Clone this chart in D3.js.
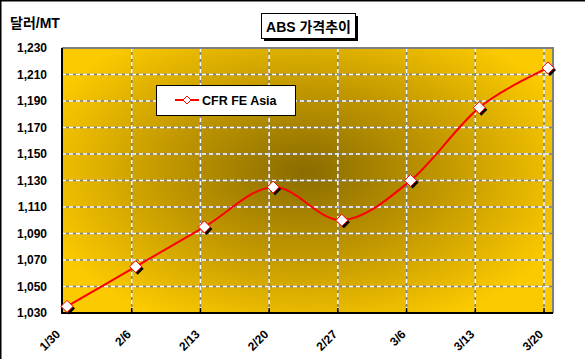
<!DOCTYPE html>
<html><head><meta charset="utf-8">
<script src="https://cdn.jsdelivr.net/npm/d3@7/dist/d3.min.js"></script>
<style>body{margin:0;background:#fff}svg{display:block}</style>
</head><body>
<svg id="c" width="585" height="359"></svg>
<script>
const categories = ["1/30","2/6","2/13","2/20","2/27","3/6","3/13","3/20"];
const values = [1035,1065,1095,1125,1100,1130,1185,1215];
const yTicks = [1030,1050,1070,1090,1110,1130,1150,1170,1190,1210,1230];
const seriesName = "CFR FE Asia";
const chartTitle = "ABS 가격추이";
const yTitle = "달러/MT";

const svg = d3.select("#c");
const font = "'Liberation Sans', Arial, 'Noto Sans CJK KR', sans-serif";
const L = 62, R = 553, T = 48, B = 313;

// outer border (top, left)
svg.append("line").attr("x1",0).attr("x2",585).attr("y1",0.5).attr("y2",0.5).attr("stroke","#000").attr("stroke-width",2);
svg.append("line").attr("x1",0.5).attr("x2",0.5).attr("y1",0).attr("y2",359).attr("stroke","#000").attr("stroke-width",2);

const defs = svg.append("defs");
const rg = defs.append("radialGradient").attr("id","bg").attr("gradientUnits","userSpaceOnUse")
  .attr("cx",305).attr("cy",172).attr("r",280).attr("gradientTransform","translate(305,172) scale(1,0.6) translate(-305,-172)");
rg.append("stop").attr("offset","0").attr("stop-color","#8a6c00");
rg.append("stop").attr("offset","0.5").attr("stop-color","#c29800");
rg.append("stop").attr("offset","1").attr("stop-color","#fcca00");
svg.append("rect").attr("x",L).attr("y",T).attr("width",R-L).attr("height",B-T).attr("fill","url(#bg)");

const x = d3.scaleLinear().domain([0, categories.length-1]).range([67, 548]);
const y = d3.scaleLinear().domain([1030,1230]).range([B, T]);
const gridX = i => x(i) - 4;

// horizontal gridlines
yTicks.slice(1).forEach(v => {
  svg.append("line").attr("x1",L).attr("x2",R).attr("y1",y(v)).attr("y2",y(v)).attr("stroke","#808080").attr("stroke-width",1.5);
  svg.append("line").attr("x1",L).attr("x2",R).attr("y1",y(v)).attr("y2",y(v)).attr("stroke","#fff").attr("stroke-width",1.5).attr("stroke-dasharray","4,3");
});
// vertical gridlines
categories.forEach((c,i) => {
  if (i===0) return;
  svg.append("line").attr("x1",gridX(i)).attr("x2",gridX(i)).attr("y1",T).attr("y2",B).attr("stroke","#808080").attr("stroke-width",1.5);
  svg.append("line").attr("x1",gridX(i)).attr("x2",gridX(i)).attr("y1",T).attr("y2",B).attr("stroke","#fff").attr("stroke-width",1.5).attr("stroke-dasharray","4,3");
  svg.append("line").attr("x1",gridX(i)).attr("x2",gridX(i)).attr("y1",B-5).attr("y2",B).attr("stroke","#000").attr("stroke-width",1.5);
});
// plot border
svg.append("path").attr("d",`M${L},${T}H${R}V${B}`).attr("fill","none").attr("stroke","#808080").attr("stroke-width",2);
svg.append("path").attr("d",`M${L},${T}V${B}H${R}`).attr("fill","none").attr("stroke","#000").attr("stroke-width",2);

// y tick labels
yTicks.forEach(v => {
  svg.append("text").attr("x",47).attr("y",y(v)).attr("dy","0.35em").attr("text-anchor","end")
    .attr("font-family",font).attr("font-weight","bold").attr("font-size",12).text(d3.format(",")(v));
});
// x tick labels
categories.forEach((c,i) => {
  const tx = gridX(i) + (i===0?-2:0), ty = 335;
  svg.append("text").attr("transform",`translate(${tx},${ty}) rotate(-45)`).attr("text-anchor","end")
    .attr("font-family",font).attr("font-weight","bold").attr("font-size",12).text(c);
});

// line
const line = d3.line().x((d,i)=>x(i)).y(d=>y(d)).curve(d3.curveCardinal.tension(0));
svg.append("path").datum(values).attr("d",line).attr("fill","none").attr("stroke","#ff0000").attr("stroke-width",2);

const diamond = (cx,cy,r) => `M${cx},${cy-r}L${cx+r},${cy}L${cx},${cy+r}L${cx-r},${cy}Z`;
values.forEach((v,i) => {
  svg.append("path").attr("d",diamond(x(i)+2,y(v)+2,6)).attr("fill","#000");
  svg.append("path").attr("d",diamond(x(i),y(v),6)).attr("fill","#fff").attr("stroke","#ff0000").attr("stroke-width",1);
});

// legend
svg.append("rect").attr("x",156.5).attr("y",85.5).attr("width",139).attr("height",30).attr("fill","#fff").attr("stroke","#000").attr("stroke-width",1);
svg.append("line").attr("x1",175).attr("x2",199).attr("y1",100).attr("y2",100).attr("stroke","#ff0000").attr("stroke-width",2);
svg.append("path").attr("d",diamond(187,100,4)).attr("fill","#fff").attr("stroke","#ff0000").attr("stroke-width",1);
svg.append("text").attr("x",202).attr("y",104.5).attr("font-family",font).attr("font-weight","bold").attr("font-size",12.5).text(seriesName);

// title box
svg.append("rect").attr("x",264).attr("y",16).attr("width",94).attr("height",25).attr("fill","#000");
svg.append("rect").attr("x",261.5).attr("y",13.5).attr("width",94).attr("height",25).attr("fill","#fff").attr("stroke","#000").attr("stroke-width",1);
svg.append("text").attr("x",308.5).attr("y",31.5).attr("text-anchor","middle").attr("font-family",font).attr("font-weight","bold").attr("font-size",14).text(chartTitle);

// y title
svg.append("text").attr("x",10).attr("y",28).attr("font-family",font).attr("font-weight","bold").attr("font-size",14).text(yTitle);
</script>
</body></html>
